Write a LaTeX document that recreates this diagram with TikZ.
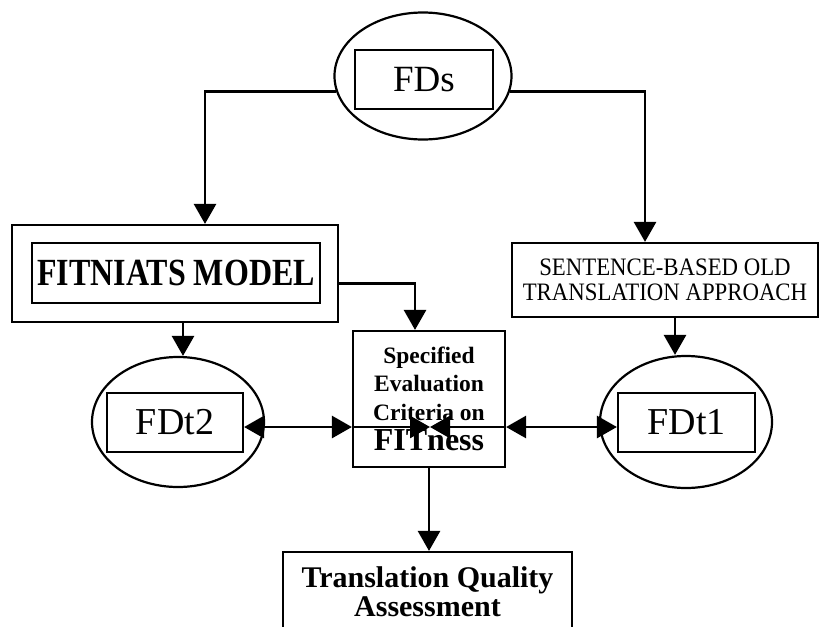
\documentclass[tikz,border=0pt]{standalone}
\usepackage{fontspec}
\setmainfont{Liberation Serif}
\usetikzlibrary{shapes.geometric,arrows.meta}

\begin{document}
\begin{tikzpicture}[
    x=1pt, y=-1pt,
    box/.style={rectangle, draw, line width=2.2pt, inner sep=0pt, align=center},
    oval/.style={ellipse, draw, line width=2.2pt, inner sep=0pt},
    arrow/.style={-{Triangle[length=20pt,width=22pt]}, line width=2.8pt},
    both/.style={{Triangle[length=20pt,width=22pt]}-{Triangle[length=20pt,width=22pt]}, line width=2.8pt}
]
\useasboundingbox (0,0) rectangle (820,627);
\clip (0,0) rectangle (820,627);

% Source layer
\node[oval, minimum width=177pt, minimum height=127pt] (fdsO) at (423,76) {};
\node[box, minimum width=138pt, minimum height=59pt, font=\fontsize{37}{40}\selectfont] (fds) at (424,79.5) {FDs};

% Model layer
\node[box, minimum width=326pt, minimum height=97pt] (fitO) at (175,273.5) {};
\node[box, minimum width=288pt, minimum height=60pt, font=\bfseries\fontsize{32}{36}\selectfont] (fit) at (176,273) {\scalebox{1}[1.2]{FITNIATS MODEL}};

\node[box, minimum width=306pt, minimum height=74pt, font=\fontsize{22.8}{25}\selectfont] (sent) at (665,280) {\scalebox{1}[1.1]{SENTENCE-BASED OLD}\\\scalebox{1}[1.1]{TRANSLATION APPROACH}};

% Target layer
\node[oval, minimum width=172pt, minimum height=130pt] (fdt2O) at (178,422) {};
\node[box, minimum width=136pt, minimum height=59pt, font=\fontsize{38}{40}\selectfont] (fdt2) at (175,422.5) {FDt2};

\node[oval, minimum width=172pt, minimum height=132pt] (fdt1O) at (686,422) {};
\node[box, minimum width=137pt, minimum height=59pt, font=\fontsize{38}{40}\selectfont] (fdt1) at (686.5,422.5) {FDt1};

% Evaluation
\node[box, minimum width=152pt, minimum height=136pt, font=\bfseries\fontsize{23.5}{28.5}\selectfont] (crit) at (429,399) {Specified\\Evaluation\\Criteria on\\[2pt]{\fontsize{32}{34}\selectfont FITness}};
\coordinate (hub) at (430,427);

\node[box, minimum width=289pt, minimum height=80pt, font=\bfseries\fontsize{30}{29}\selectfont] (tqa) at (427.5,592) {Translation Quality\\Assessment};

% Arrows
\draw[arrow] (fdsO.190) -| ([xshift=30pt]fitO.north);
\draw[arrow] (fdsO.-10) -| ([xshift=-20pt]sent.north);
\draw[arrow] ([yshift=-10pt]fitO.east) -| ([xshift=-14pt]crit.north);
\draw[arrow] ([xshift=8pt]fitO.south) -- ([xshift=8pt]fitO.south |- fdt2O.north);
\draw[arrow] ([xshift=10pt]sent.south) -- ([xshift=10pt]sent.south |- fdt1O.north);
\draw[both] (fdt2.east |- hub) -- (crit.west |- hub);
\draw[arrow] (crit.west |- hub) -- (hub);
\draw[both] (fdt1.west |- hub) -- (crit.east |- hub);
\draw[arrow] (crit.east |- hub) -- (hub);
\draw[arrow] (crit.south) -- (crit.south |- tqa.north);

\end{tikzpicture}
\end{document}
